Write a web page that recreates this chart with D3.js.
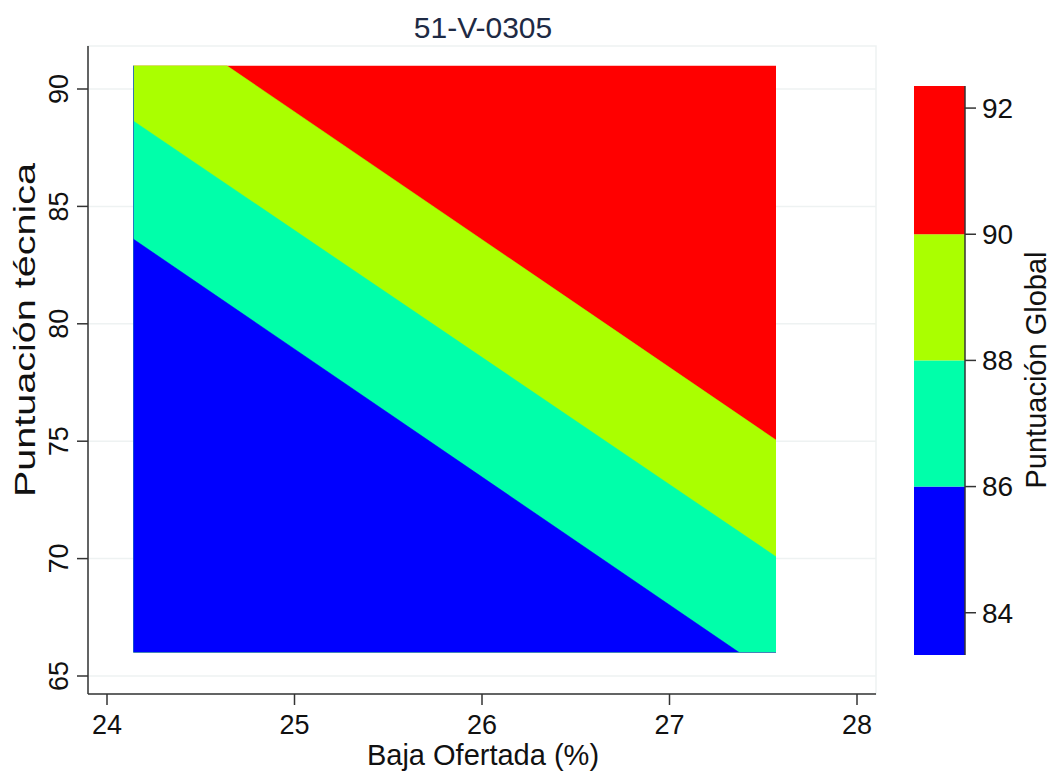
<!DOCTYPE html>
<html>
<head>
<meta charset="utf-8">
<script src="https://cdn.jsdelivr.net/npm/d3@7"></script>
<style>
  body { margin: 0; background: #fff; }
  text { font-family: "Liberation Sans", Arial, sans-serif; }
</style>
</head>
<body>
<div id="chart"></div>
<script>
// values
const xTicks = [24, 25, 26, 27, 28];
const yTicks = [65, 70, 75, 80, 85, 90];
const zTicks = [84, 86, 88, 90, 92];
const xExtent = [24.14, 27.568];
const yExtent = [66, 91];
const zEdges = [83.33, 86, 88, 90, 92.35];
const bandColors = ["#0000ff", "#00ffaa", "#aaff00", "#ff0000"];
// contour lines (level, two end points) for 86, 88, 90
const contourLevels = [86, 88, 90];
const contourLines = [
  [[24.14, 83.61], [27.372, 66]],
  [[24.14, 88.64], [27.568, 70.08]],
  [[24.638, 91], [27.568, 75.05]],
];

const width = 1053;
const height = 771;

const svg = d3.select("#chart")
  .append("svg")
  .attr("width", width)
  .attr("height", height);

const x = d3.scaleLinear().domain([24, 28]).range([107, 857]);
const y = d3.scaleLinear().domain([65, 90]).range([676, 89]);

const plotLeft = 88, plotRight = 876, plotTop = 46, plotBottom = 694;

// plot region frame + grid
svg.append("rect")
  .attr("x", plotLeft)
  .attr("y", plotTop)
  .attr("width", plotRight - plotLeft)
  .attr("height", plotBottom - plotTop)
  .attr("fill", "none")
  .attr("stroke", "#eef2f2")
  .attr("stroke-width", 1.5);

svg.append("g")
  .selectAll("line")
  .data(yTicks)
  .join("line")
  .attr("x1", plotLeft)
  .attr("x2", plotRight)
  .attr("y1", (d) => y(d))
  .attr("y2", (d) => y(d))
  .attr("stroke", "#eef2f2")
  .attr("stroke-width", 1.5);

// contour bands
svg.append("clipPath")
  .attr("id", "clip")
  .append("rect")
  .attr("x", x(xExtent[0]))
  .attr("y", y(yExtent[1]))
  .attr("width", x(xExtent[1]) - x(xExtent[0]))
  .attr("height", y(yExtent[0]) - y(yExtent[1]));

const bands = svg.append("g").attr("clip-path", "url(#clip)");

bands.append("rect")
  .attr("x", x(xExtent[0]))
  .attr("y", y(yExtent[1]))
  .attr("width", x(xExtent[1]) - x(xExtent[0]))
  .attr("height", y(yExtent[0]) - y(yExtent[1]))
  .attr("fill", bandColors[3]);

const line = d3.line().x((d) => x(d[0])).y((d) => y(d[1]));

// region below each contour line, drawn from top level down
const belowPolys = contourLines.map((pts) => [
  ...pts,
  [xExtent[1], yExtent[0]],
  [xExtent[0], yExtent[0]],
  [xExtent[0], yExtent[1]],
]);

bands.selectAll("path")
  .data(d3.range(contourLevels.length).reverse())
  .join("path")
  .attr("d", (i) => line(belowPolys[i]) + "Z")
  .attr("fill", (i) => bandColors[i])
  .attr("stroke", (i) => bandColors[i])
  .attr("stroke-width", 0.5);

// axes
const axisColor = "#333";
const labelColor = "#111";

svg.append("line")
  .attr("x1", plotLeft).attr("x2", plotRight)
  .attr("y1", plotBottom).attr("y2", plotBottom)
  .attr("stroke", axisColor).attr("stroke-width", 1.5);

svg.append("line")
  .attr("x1", plotLeft).attr("x2", plotLeft)
  .attr("y1", plotTop).attr("y2", plotBottom)
  .attr("stroke", axisColor).attr("stroke-width", 1.5);

const xTickG = svg.append("g")
  .selectAll("g")
  .data(xTicks)
  .join("g")
  .attr("transform", (d) => `translate(${x(d)},${plotBottom})`);

xTickG.append("line")
  .attr("y2", 11)
  .attr("stroke", axisColor)
  .attr("stroke-width", 1.5);

xTickG.append("text")
  .attr("y", 40)
  .attr("text-anchor", "middle")
  .attr("font-size", 27)
  .attr("fill", labelColor)
  .text((d) => d);

const yTickG = svg.append("g")
  .selectAll("g")
  .data(yTicks)
  .join("g")
  .attr("transform", (d) => `translate(${plotLeft},${y(d)})`);

yTickG.append("line")
  .attr("x2", -11)
  .attr("stroke", axisColor)
  .attr("stroke-width", 1.5);

yTickG.append("text")
  .attr("transform", "translate(-20,0) rotate(-90)")
  .attr("text-anchor", "middle")
  .attr("font-size", 27)
  .attr("fill", labelColor)
  .text((d) => d);

// titles
svg.append("text")
  .attr("x", 483)
  .attr("y", 38)
  .attr("text-anchor", "middle")
  .attr("font-size", 30)
  .attr("fill", "#1e2a44")
  .text("51-V-0305");

svg.append("text")
  .attr("x", 483)
  .attr("y", 765)
  .attr("text-anchor", "middle")
  .attr("font-size", 29)
  .attr("fill", labelColor)
  .text("Baja Ofertada (%)");

svg.append("text")
  .attr("transform", "translate(35,330) rotate(-90)")
  .attr("text-anchor", "middle")
  .attr("font-size", 29)
  .attr("textLength", 334)
  .attr("lengthAdjust", "spacingAndGlyphs")
  .attr("fill", labelColor)
  .text("Puntuación técnica");

// colour bar
const z = d3.scaleLinear().domain([zEdges[0], zEdges[zEdges.length - 1]]).range([655, 86]);
const barLeft = 914, barRight = 965;

svg.append("g")
  .selectAll("rect")
  .data(d3.range(bandColors.length))
  .join("rect")
  .attr("x", barLeft)
  .attr("width", barRight - barLeft)
  .attr("y", (i) => z(zEdges[i + 1]))
  .attr("height", (i) => z(zEdges[i]) - z(zEdges[i + 1]))
  .attr("fill", (i) => bandColors[i]);

svg.append("line")
  .attr("x1", barRight).attr("x2", barRight)
  .attr("y1", z.range()[1]).attr("y2", z.range()[0])
  .attr("stroke", axisColor).attr("stroke-width", 1.5);

const zTickG = svg.append("g")
  .selectAll("g")
  .data(zTicks)
  .join("g")
  .attr("transform", (d) => `translate(${barRight},${z(d)})`);

zTickG.append("line")
  .attr("x2", 11)
  .attr("stroke", axisColor)
  .attr("stroke-width", 1.5);

zTickG.append("text")
  .attr("x", 17)
  .attr("dy", "0.35em")
  .attr("font-size", 28)
  .attr("fill", labelColor)
  .text((d) => d);

svg.append("text")
  .attr("transform", "translate(1046,370) rotate(-90)")
  .attr("text-anchor", "middle")
  .attr("font-size", 29)
  .attr("fill", labelColor)
  .text("Puntuación Global");
</script>
</body>
</html>
